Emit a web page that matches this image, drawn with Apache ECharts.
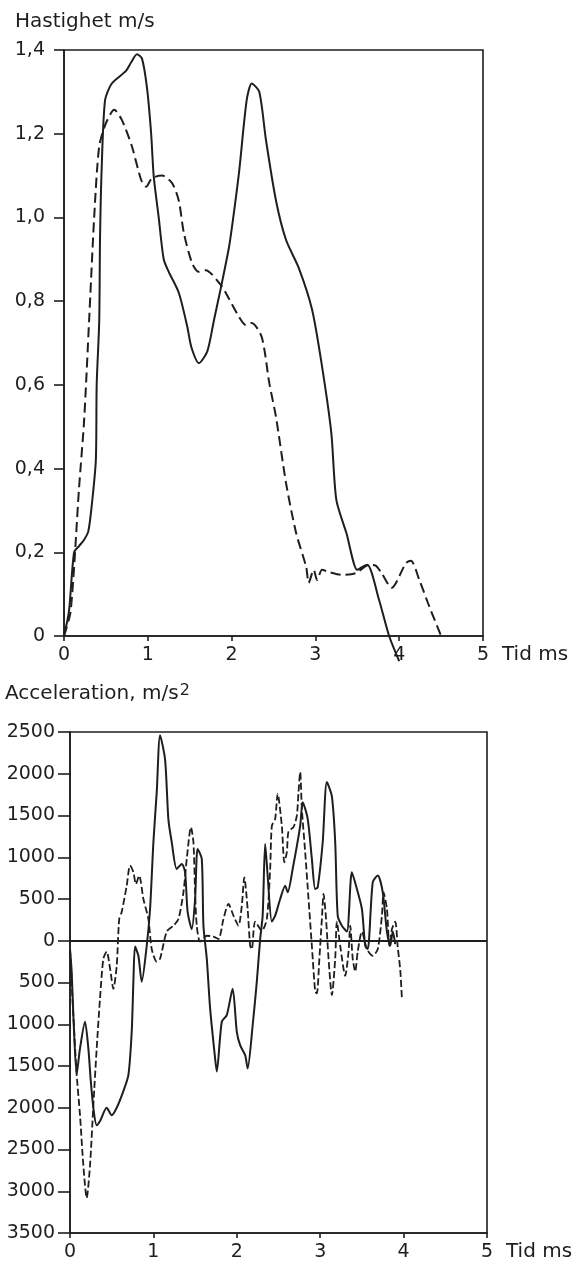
<!DOCTYPE html>
<html>
<head>
<meta charset="utf-8">
<script src="https://cdn.jsdelivr.net/npm/echarts@6/dist/echarts.min.js"></script>
<style>
  html, body { margin: 0; padding: 0; background: #ffffff; }
  #main { width: 577px; height: 1265px; }
</style>
</head>
<body>
<div id="main"></div>
<script>
// hastighet, heldragen kurva [tid ms, m/s]
var velSolid = [
  [0, 0], [0.06, 0.06], [0.12, 0.2], [0.18, 0.215], [0.24, 0.23], [0.29, 0.25],
  [0.33, 0.31], [0.38, 0.42], [0.39, 0.6], [0.42, 0.75], [0.43, 0.95], [0.45, 1.12],
  [0.49, 1.28], [0.57, 1.32], [0.74, 1.35], [0.80, 1.37], [0.87, 1.39], [0.93, 1.38],
  [0.99, 1.31], [1.04, 1.2], [1.07, 1.1], [1.13, 1.0], [1.19, 0.9], [1.25, 0.87],
  [1.37, 0.82], [1.47, 0.74], [1.52, 0.69], [1.61, 0.652], [1.71, 0.68], [1.79, 0.755],
  [1.87, 0.83], [1.97, 0.93], [2.02, 1.0], [2.09, 1.11], [2.18, 1.28], [2.24, 1.32],
  [2.33, 1.3], [2.41, 1.185], [2.53, 1.04], [2.65, 0.946], [2.80, 0.88], [2.96, 0.78],
  [3.08, 0.643], [3.19, 0.485], [3.25, 0.325], [3.37, 0.246], [3.50, 0.158], [3.56, 0.165],
  [3.62, 0.17], [3.76, 0.086], [3.88, 0], [4.0, -0.06]
];
// hastighet, streckad kurva
var velDashed = [
  [0, 0], [0.08, 0.06], [0.18, 0.355], [0.24, 0.515], [0.30, 0.755], [0.36, 1.0],
  [0.42, 1.17], [0.50, 1.225], [0.60, 1.257], [0.69, 1.233], [0.81, 1.17], [0.92, 1.09],
  [0.98, 1.073], [1.05, 1.094], [1.17, 1.1], [1.29, 1.082], [1.37, 1.04], [1.43, 0.963],
  [1.53, 0.89], [1.61, 0.87], [1.69, 0.874], [1.89, 0.834], [1.93, 0.82], [2.09, 0.762],
  [2.17, 0.743], [2.24, 0.748], [2.36, 0.714], [2.45, 0.604], [2.53, 0.523], [2.65, 0.365],
  [2.77, 0.246], [2.89, 0.165], [2.92, 0.127], [2.98, 0.158], [3.02, 0.134], [3.08, 0.158],
  [3.16, 0.153], [3.32, 0.146], [3.48, 0.15], [3.64, 0.17], [3.72, 0.168], [3.79, 0.15],
  [3.91, 0.115], [4.08, 0.174], [4.14, 0.18], [4.24, 0.134], [4.36, 0.07], [4.50, 0]
];
// acceleration, heldragen kurva [tid ms, m/s2]
var accSolid = [
  [0, -100], [0.02, -370], [0.04, -890], [0.08, -1600], [0.12, -1290], [0.18, -970],
  [0.22, -1290], [0.25, -1690], [0.28, -2000], [0.32, -2210], [0.36, -2160], [0.44, -2000],
  [0.50, -2090], [0.56, -2000], [0.64, -1800], [0.70, -1610], [0.74, -1090], [0.76, -490],
  [0.78, -70], [0.82, -180], [0.86, -490], [0.92, -60], [0.96, 380], [1.0, 1180],
  [1.04, 1780], [1.08, 2460], [1.14, 2170], [1.18, 1450], [1.22, 1180], [1.28, 860],
  [1.34, 920], [1.38, 820], [1.41, 350], [1.46, 140], [1.50, 500], [1.53, 1100],
  [1.58, 980], [1.60, 180], [1.64, -215], [1.68, -810], [1.74, -1410], [1.76, -1565],
  [1.82, -970], [1.88, -890], [1.95, -575], [2.0, -1090], [2.04, -1250], [2.10, -1370],
  [2.13, -1530], [2.19, -1015], [2.24, -490], [2.28, 20], [2.31, 300], [2.34, 1160],
  [2.37, 780], [2.42, 230], [2.46, 300], [2.52, 500], [2.58, 660], [2.61, 580],
  [2.67, 860], [2.76, 1375], [2.79, 1660], [2.85, 1460], [2.90, 980], [2.94, 620],
  [2.97, 640], [3.03, 1180], [3.08, 1900], [3.14, 1730], [3.18, 1180], [3.21, 300],
  [3.26, 180], [3.32, 110], [3.38, 820], [3.44, 620], [3.50, 380], [3.54, -60],
  [3.57, -100], [3.63, 700], [3.69, 780], [3.75, 580], [3.80, 110], [3.84, -60],
  [3.87, 110], [3.90, -40]
];
// acceleration, streckad kurva
var accDashed = [
  [0, -100], [0.04, -890], [0.08, -1600], [0.12, -2090], [0.16, -2690], [0.20, -3080],
  [0.24, -2690], [0.28, -1970], [0.32, -1290], [0.36, -690], [0.40, -215], [0.44, -130],
  [0.48, -330], [0.52, -575], [0.56, -300], [0.59, 260], [0.62, 345], [0.68, 660],
  [0.72, 900], [0.76, 820], [0.79, 680], [0.83, 780], [0.88, 500], [0.94, 260],
  [0.98, -100], [1.04, -250], [1.08, -215], [1.16, 110], [1.24, 180], [1.30, 260],
  [1.36, 580], [1.40, 980], [1.45, 1360], [1.48, 1180], [1.50, 580], [1.52, 180],
  [1.56, -10], [1.64, 60], [1.72, 50], [1.78, 20], [1.84, 260], [1.90, 440],
  [1.96, 300], [2.02, 180], [2.06, 420], [2.09, 760], [2.13, 380], [2.16, -60],
  [2.18, -100], [2.22, 230], [2.30, 120], [2.36, 260], [2.40, 860], [2.42, 1375],
  [2.46, 1460], [2.49, 1760], [2.54, 1375], [2.57, 940], [2.60, 1060], [2.62, 1310],
  [2.68, 1360], [2.72, 1500], [2.74, 1780], [2.76, 2020], [2.78, 1580], [2.82, 1060],
  [2.86, 500], [2.90, -60], [2.94, -610], [2.96, -630], [2.99, -215], [3.02, 260],
  [3.04, 560], [3.07, 260], [3.10, -215], [3.14, -650], [3.18, -215], [3.20, 230],
  [3.24, -60], [3.30, -420], [3.34, -130], [3.36, 180], [3.39, -215], [3.42, -370],
  [3.45, -130], [3.50, 110], [3.56, -100], [3.63, -180], [3.69, -100], [3.74, 300],
  [3.76, 580], [3.80, 380], [3.83, -60], [3.86, 140], [3.90, 230], [3.93, -80],
  [3.96, -350], [3.98, -700]
];

var font = 'DejaVu Sans'
var ink = '#1e1e1e'

var chart = echarts.init(document.getElementById('main'))

function valueAxisX(gridIndex) {
  return {
    type: 'value',
    gridIndex: gridIndex,
    min: 0,
    max: 5,
    interval: 1,
    name: 'Tid ms',
    nameLocation: 'end',
    nameGap: 19,
    nameTextStyle: { fontFamily: font, fontSize: 20, color: ink, verticalAlign: 'top', padding: [9, 0, 0, 0] },
    axisLine: { show: true, onZero: false, lineStyle: { color: ink, width: 1.6 } },
    axisTick: { show: true, inside: false, length: 5, lineStyle: { color: ink, width: 1.6 } },
    axisLabel: { fontFamily: font, fontSize: 19, color: ink, margin: 10 },
    splitLine: { show: false }
  }
}

var option = {
  animation: false,
  backgroundColor: '#ffffff',
  title: [
    {
      text: 'Hastighet m/s',
      left: 15,
      top: 12,
      padding: 0,
      textStyle: { fontFamily: font, fontSize: 20, fontWeight: 'normal', color: ink }
    },
    {
      text: 'Acceleration, m/s{sup|2}',
      left: 5,
      top: 683,
      padding: 0,
      textStyle: {
        fontFamily: font, fontSize: 20, fontWeight: 'normal', color: ink,
        rich: { sup: { fontFamily: font, fontSize: 16, color: ink, verticalAlign: 'top', padding: [0, 0, 6, 1] } }
      }
    }
  ],
  grid: [
    { left: 64, top: 50, width: 419, height: 586, show: true, borderColor: ink, borderWidth: 1.6, containLabel: false },
    { left: 70, top: 732, width: 417, height: 501, show: true, borderColor: ink, borderWidth: 1.6, containLabel: false }
  ],
  xAxis: [valueAxisX(0), valueAxisX(1)],
  yAxis: [
    {
      type: 'value',
      gridIndex: 0,
      min: 0,
      max: 1.4,
      interval: 0.2,
      axisLine: { show: true, lineStyle: { color: ink, width: 1.6 } },
      axisTick: { show: true, length: 10, lineStyle: { color: ink, width: 1.6 } },
      axisLabel: {
        fontFamily: font, fontSize: 19, color: ink, margin: 19,
        formatter: function(v) { return v === 0 ? '0' : v.toFixed(1).replace('.', ',') }
      },
      splitLine: { show: false }
    },
    {
      type: 'value',
      gridIndex: 1,
      min: -3500,
      max: 2500,
      interval: 500,
      axisLine: { show: true, lineStyle: { color: ink, width: 1.6 } },
      axisTick: { show: true, length: 12, lineStyle: { color: ink, width: 1.6 } },
      axisLabel: {
        fontFamily: font, fontSize: 19, color: ink, margin: 15,
        formatter: function(v) { return String(Math.abs(v)) }
      },
      splitLine: { show: false }
    }
  ],
  series: [
    {
      type: 'line', xAxisIndex: 0, yAxisIndex: 0, data: velSolid,
      showSymbol: false, symbol: 'none', smooth: 0.25, clip: false,
      lineStyle: { color: ink, width: 2 }
    },
    {
      type: 'line', xAxisIndex: 0, yAxisIndex: 0, data: velDashed,
      showSymbol: false, symbol: 'none', smooth: 0.25,
      lineStyle: { color: ink, width: 2, type: [10, 5] }
    },
    {
      type: 'line', xAxisIndex: 1, yAxisIndex: 1, data: accSolid,
      showSymbol: false, symbol: 'none', smooth: 0.25,
      lineStyle: { color: ink, width: 2 },
      markLine: {
        silent: true, symbol: 'none', label: { show: false },
        lineStyle: { color: ink, width: 2, type: 'solid' },
        data: [{ yAxis: 0 }]
      }
    },
    {
      type: 'line', xAxisIndex: 1, yAxisIndex: 1, data: accDashed,
      showSymbol: false, symbol: 'none', smooth: 0.25,
      lineStyle: { color: ink, width: 1.8, type: [7, 3] }
    }
  ]
}

chart.setOption(option)
</script>
</body>
</html>
